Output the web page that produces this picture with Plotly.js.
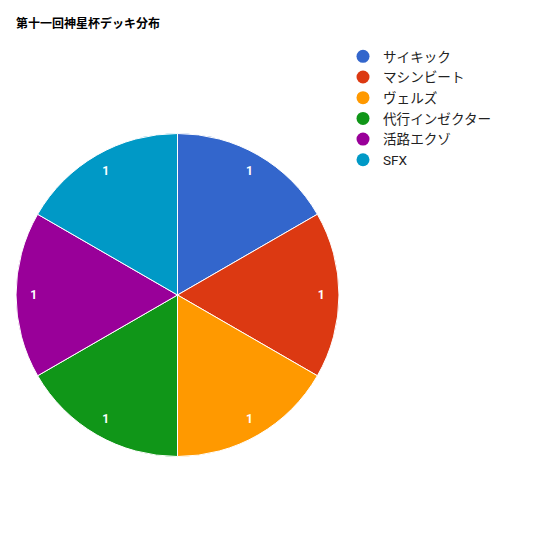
<!DOCTYPE html>
<html>
<head>
<meta charset="utf-8">
<script src="https://cdn.plot.ly/plotly-3.0.1.min.js"></script>
<style>body{margin:0;background:#fff}#chart{width:540px;height:540px}</style>
</head>
<body>
<div id="chart"></div>
<script>
var decks = ['サイキック', 'マシンビート', 'ヴェルズ', '代行インゼクター', '活路エクゾ', 'SFX'];
var counts = [1, 1, 1, 1, 1, 1];
var colors = ['#3366cc', '#dc3912', '#ff9900', '#109618', '#990099', '#0099c6'];

var font = 'Roboto, "Noto Sans CJK JP", Arial, sans-serif';
var pieDomain = {x: [16 / 540, 339 / 540], y: [1 - 457 / 540, 1 - 133 / 540]};

var data = [{
    // the coloured slices
    type: 'pie',
    labels: decks,
    values: counts,
    sort: false,
    direction: 'clockwise',
    rotation: 0,
    textinfo: 'none',
    marker: {colors: colors, line: {color: '#ffffff', width: 1}},
    domain: pieDomain,
    showlegend: false,
    hoverinfo: 'label+value+percent'
}, {
    // transparent ring on top, only to push the value labels outwards
    type: 'pie',
    labels: decks,
    values: counts,
    sort: false,
    direction: 'clockwise',
    rotation: 0,
    hole: 0.78,
    textinfo: 'value',
    textposition: 'inside',
    insidetextorientation: 'horizontal',
    textfont: {family: font, size: 12, color: '#ffffff', weight: 'bold'},
    marker: {colors: decks.map(function(){ return 'rgba(0,0,0,0)'; }), line: {width: 0}},
    domain: pieDomain,
    showlegend: false,
    hoverinfo: 'skip'
}];

// legend entries with round markers
for (var i = 0; i < decks.length; i++) {
    data.push({
        type: 'scatter',
        mode: 'markers',
        x: [null],
        y: [null],
        name: decks[i],
        marker: {color: colors[i], size: 13, symbol: 'circle'},
        hoverinfo: 'skip'
    });
}

var layout = {
    width: 540,
    height: 540,
    margin: {l: 0, r: 0, t: 0, b: 0},
    paper_bgcolor: '#ffffff',
    plot_bgcolor: '#ffffff',
    title: {
        text: '<b>第十一回神星杯デッキ分布</b>',
        x: 16 / 540,
        xanchor: 'left',
        y: 1 - 24 / 540,
        yanchor: 'middle',
        font: {family: '"Noto Sans CJK JP", Arial, sans-serif', size: 12, color: '#000000'}
    },
    xaxis: {visible: false},
    yaxis: {visible: false},
    legend: {
        x: 343 / 540,
        xanchor: 'left',
        y: 1 - 41 / 540,
        yanchor: 'top',
        font: {family: font, size: 13.6, color: '#222222'},
        tracegroupgap: 0,
        itemwidth: 30,
        bgcolor: 'rgba(0,0,0,0)'
    }
};

Plotly.newPlot('chart', data, layout, {displayModeBar: false, staticPlot: true});
</script>
</body>
</html>
